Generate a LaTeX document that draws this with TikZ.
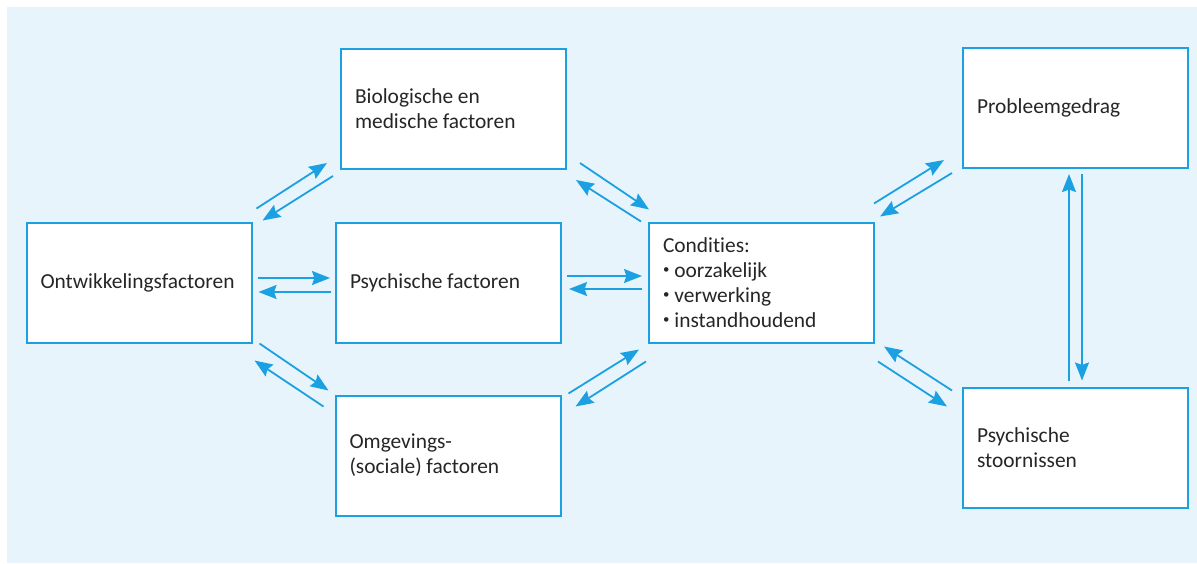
\documentclass[tikz,border=0pt]{standalone}
\usepackage{fontspec}
\setmainfont[Ligatures=NoCommon]{Carlito}
\usetikzlibrary{arrows.meta}

\definecolor{lijnblauw}{RGB}{27,160,226}
\definecolor{achtergrond}{RGB}{231,244,252}

\newcommand{\opsom}{\raisebox{0.35ex}{\scalebox{0.6}{•}}\hspace{2.5pt}}

\tikzset{
  blok/.style={draw=lijnblauw, line width=1pt, fill=white, text width=98.5pt,
    align=left, inner xsep=7pt, minimum height=60pt, font=\fontsize{10.7}{12.4}\selectfont,
    text=black!85, execute at begin node={\spaceskip=2.3pt\relax}},
  pijl/.style={draw=lijnblauw, line width=0.9pt,
    -{Stealth[length=9pt,width=7pt,inset=1.2pt]}}
}

\begin{document}
\begin{tikzpicture}[x=0.5pt,y=-0.5pt]
\useasboundingbox (0,0) rectangle (1197,563);
\fill[achtergrond] (7,7) rectangle (1197,563);

\node[blok] (ontw) at (139,282.5) {Ontwikkelingsfactoren};
\node[blok] (bio) at (453.5,109) {Biologische en\\medische factoren};
\node[blok] (psych) at (448.5,282.5) {Psychische factoren};
\node[blok] (omg) at (448,455.5) {Omgevings-\\(sociale) factoren};
\node[blok] (cond) at (761.5,282.5) {Condities:\\\opsom oorzakelijk\\\opsom verwerking\\\opsom instandhoudend};
\node[blok] (prob) at (1075.5,108) {Probleemgedrag};
\node[blok] (stoor) at (1075.5,447.5) {Psychische\\stoornissen};

\draw[pijl] ([shift={(4,-13)}]ontw.north east) -- ([shift={(-13,-7)}]bio.south west);
\draw[pijl] ([shift={(-7,6)}]bio.south west) -- ([shift={(10,-1)}]ontw.north east);

\draw[pijl] ([shift={(5,-4.5)}]ontw.east) -- ([shift={(-5,-4.5)}]psych.west);
\draw[pijl] ([shift={(-4,9.5)}]psych.west) -- ([shift={(6,9.5)}]ontw.east);

\draw[pijl] ([shift={(7,0)}]ontw.south east) -- ([shift={(-6,-4)}]omg.north west);
\draw[pijl] ([shift={(-11,12)}]omg.north west) -- ([shift={(2,17)}]ontw.south east);

\draw[pijl] ([shift={(13,-7)}]bio.south east) -- ([shift={(1,-12)}]cond.north west);
\draw[pijl] ([shift={(-7,0)}]cond.north west) -- ([shift={(9,10)}]bio.south east);

\draw[pijl] ([shift={(5,-6.5)}]psych.east) -- ([shift={(-6,-6.5)}]cond.west);
\draw[pijl] ([shift={(-6,6.5)}]cond.west) -- ([shift={(7,6.5)}]psych.east);

\draw[pijl] ([shift={(7,-1)}]omg.north east) -- ([shift={(-9,6)}]cond.south west);
\draw[pijl] ([shift={(-2,18)}]cond.south west) -- ([shift={(14,12)}]omg.north east);

\draw[pijl] ([shift={(-1,-18)}]cond.north east) -- ([shift={(-18,-9)}]prob.south west);
\draw[pijl] ([shift={(-10,4)}]prob.south west) -- ([shift={(5,-5)}]cond.north east);

\draw[pijl] ([shift={(-10,4)}]stoor.north west) -- ([shift={(9,3)}]cond.south east);
\draw[pijl] ([shift={(3,18)}]cond.south east) -- ([shift={(-15,20)}]stoor.north west);

\draw[pijl] ([shift={(-6.5,-6)}]stoor.north) -- ([shift={(-6.5,5)}]prob.south);
\draw[pijl] ([shift={(6.5,5)}]prob.south) -- ([shift={(6.5,-6)}]stoor.north);
\end{tikzpicture}
\end{document}
